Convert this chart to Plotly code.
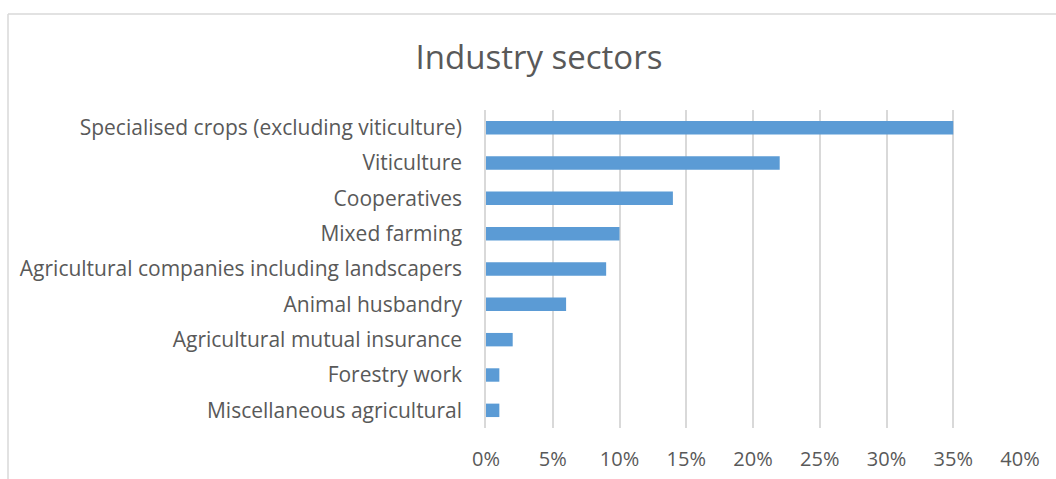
import plotly.graph_objects as go

categories = [
    "Specialised crops (excluding viticulture)",
    "Viticulture",
    "Cooperatives",
    "Mixed farming",
    "Agricultural companies including landscapers",
    "Animal husbandry",
    "Agricultural mutual insurance",
    "Forestry work",
    "Miscellaneous agricultural",
]
values = [0.35, 0.22, 0.14, 0.10, 0.09, 0.06, 0.02, 0.01, 0.01]
tick_vals = [0.0, 0.05, 0.10, 0.15, 0.20, 0.25, 0.30, 0.35, 0.40]
tick_text = ["0%", "5%", "10%", "15%", "20%", "25%", "30%", "35%", "40%"]

W, H = 1056, 479
L, R, T, B = 486, 36, 110, 51
pw = W - L - R
ph = H - T - B

fig = go.Figure(go.Bar(
    x=values, y=categories, orientation="h",
    marker=dict(color="#5B9BD5", line=dict(width=0)),
    width=0.38,
))

fig.update_layout(
    width=W, height=H,
    margin=dict(l=L, r=R, t=T, b=B, pad=0, autoexpand=False),
    paper_bgcolor="white", plot_bgcolor="white",
    font=dict(family="Open Sans, sans-serif", color="#595959", size=21),
    title=dict(text="Industry sectors", x=539 / W, xanchor="center",
               y=1 - 57 / H, yanchor="middle",
               font=dict(size=33, color="#595959")),
    showlegend=False,
    xaxis=dict(range=[0, 0.4], tickvals=tick_vals, ticktext=tick_text,
               showgrid=True, gridcolor="#D9D9D9", gridwidth=1.5,
               zeroline=False, showline=False, ticks="", ticklabelstandoff=17,
               tickfont=dict(size=20), automargin=False),
    yaxis=dict(autorange="reversed", showgrid=False, zeroline=False,
               showline=True, linecolor="#D9D9D9", linewidth=1.5,
               ticks="", ticklabelstandoff=18, automargin=False),
    bargap=0.6,
)

# chart-area border (top and left edges visible)
x_left = (8 - L) / pw
y_top = (H - B - 14) / ph
fig.add_shape(type="line", xref="paper", yref="paper",
              x0=x_left, x1=(W + 20 - L) / pw, y0=y_top, y1=y_top,
              line=dict(color="#D9D9D9", width=1.5), layer="below")
fig.add_shape(type="line", xref="paper", yref="paper",
              x0=x_left, x1=x_left, y0=y_top, y1=(-20 - B) / ph,
              line=dict(color="#D9D9D9", width=1.5), layer="below")

fig.write_html("out.html")
